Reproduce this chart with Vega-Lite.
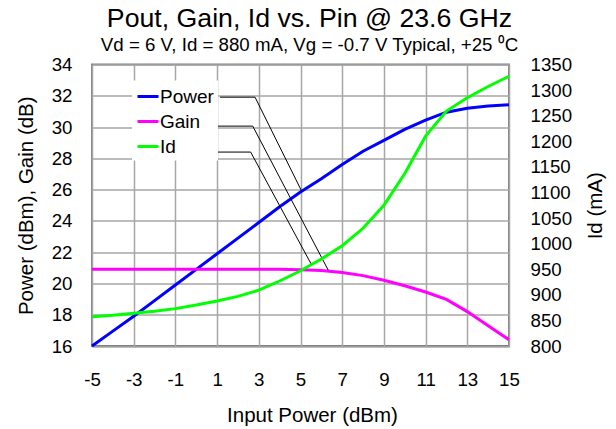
{
  "$schema": "https://vega.github.io/schema/vega-lite/v6.json",
  "width": 417,
  "height": 281.5,
  "autosize": {"type": "none"},
  "padding": {"left": 92, "top": 64.5, "right": 107, "bottom": 83},
  "title": {
    "text": "Pout, Gain, Id vs. Pin @ 23.6 GHz",
    "subtitle": "Vd = 6 V, Id = 880 mA, Vg = -0.7 V Typical, +25 ⁰C",
    "fontSize": 26.7,
    "fontWeight": "normal",
    "subtitleFontSize": 18.7,
    "font": "Liberation Sans",
    "subtitleFont": "Liberation Sans",
    "color": "black",
    "subtitleColor": "black",
    "anchor": "middle",
    "offset": 1,
    "subtitlePadding": 3,
    "dx": 9
  },
  "datasets": {
    "pg": [
      {"pin": -5, "series": "Power", "value": 16.0},
      {"pin": -4, "series": "Power", "value": 16.95},
      {"pin": -3, "series": "Power", "value": 17.9},
      {"pin": -2, "series": "Power", "value": 18.9},
      {"pin": -1, "series": "Power", "value": 19.9},
      {"pin": 0, "series": "Power", "value": 20.9},
      {"pin": 1, "series": "Power", "value": 21.9},
      {"pin": 2, "series": "Power", "value": 22.9},
      {"pin": 3, "series": "Power", "value": 23.9},
      {"pin": 4, "series": "Power", "value": 24.9},
      {"pin": 5, "series": "Power", "value": 25.85},
      {"pin": 6, "series": "Power", "value": 26.7},
      {"pin": 7, "series": "Power", "value": 27.6},
      {"pin": 8, "series": "Power", "value": 28.45},
      {"pin": 9, "series": "Power", "value": 29.15},
      {"pin": 10, "series": "Power", "value": 29.85},
      {"pin": 11, "series": "Power", "value": 30.45},
      {"pin": 12, "series": "Power", "value": 30.95},
      {"pin": 13, "series": "Power", "value": 31.2},
      {"pin": 14, "series": "Power", "value": 31.35},
      {"pin": 15, "series": "Power", "value": 31.42},
      {"pin": -5, "series": "Gain", "value": 20.9},
      {"pin": -4, "series": "Gain", "value": 20.9},
      {"pin": -3, "series": "Gain", "value": 20.9},
      {"pin": -2, "series": "Gain", "value": 20.9},
      {"pin": -1, "series": "Gain", "value": 20.9},
      {"pin": 0, "series": "Gain", "value": 20.9},
      {"pin": 1, "series": "Gain", "value": 20.9},
      {"pin": 2, "series": "Gain", "value": 20.9},
      {"pin": 3, "series": "Gain", "value": 20.9},
      {"pin": 4, "series": "Gain", "value": 20.9},
      {"pin": 5, "series": "Gain", "value": 20.88},
      {"pin": 6, "series": "Gain", "value": 20.82},
      {"pin": 7, "series": "Gain", "value": 20.7},
      {"pin": 8, "series": "Gain", "value": 20.5},
      {"pin": 9, "series": "Gain", "value": 20.2},
      {"pin": 10, "series": "Gain", "value": 19.85},
      {"pin": 11, "series": "Gain", "value": 19.45},
      {"pin": 12, "series": "Gain", "value": 18.98},
      {"pin": 13, "series": "Gain", "value": 18.2},
      {"pin": 14, "series": "Gain", "value": 17.3},
      {"pin": 15, "series": "Gain", "value": 16.4}
    ],
    "id": [
      {"pin": -5, "series": "Id", "value": 857},
      {"pin": -4, "series": "Id", "value": 860},
      {"pin": -3, "series": "Id", "value": 864},
      {"pin": -2, "series": "Id", "value": 868},
      {"pin": -1, "series": "Id", "value": 873},
      {"pin": 0, "series": "Id", "value": 880},
      {"pin": 1, "series": "Id", "value": 888},
      {"pin": 2, "series": "Id", "value": 897},
      {"pin": 3, "series": "Id", "value": 909},
      {"pin": 4, "series": "Id", "value": 927},
      {"pin": 5, "series": "Id", "value": 947},
      {"pin": 6, "series": "Id", "value": 970},
      {"pin": 7, "series": "Id", "value": 996},
      {"pin": 8, "series": "Id", "value": 1030},
      {"pin": 9, "series": "Id", "value": 1075},
      {"pin": 10, "series": "Id", "value": 1137},
      {"pin": 11, "series": "Id", "value": 1210},
      {"pin": 12, "series": "Id", "value": 1259},
      {"pin": 13, "series": "Id", "value": 1285},
      {"pin": 14, "series": "Id", "value": 1307},
      {"pin": 15, "series": "Id", "value": 1327}
    ],
    "leaders": [
      {"label": "Power", "i": 0, "pin": 1.14, "value": 31.91},
      {"label": "Power", "i": 1, "pin": 2.82, "value": 31.91},
      {"label": "Power", "i": 2, "pin": 5.06, "value": 25.89},
      {"label": "Gain", "i": 0, "pin": 0.32, "value": 30.06},
      {"label": "Gain", "i": 1, "pin": 2.71, "value": 30.06},
      {"label": "Gain", "i": 2, "pin": 6.33, "value": 20.85},
      {"label": "Id", "i": 0, "pin": -0.67, "value": 28.4},
      {"label": "Id", "i": 1, "pin": 2.61, "value": 28.4},
      {"label": "Id", "i": 2, "pin": 5.54, "value": 21.17}
    ]
  },
  "layer": [
    {
      "layer": [
        {
          "data": {"name": "pg"},
          "mark": {"type": "line", "strokeWidth": 3},
          "encoding": {
            "x": {
              "field": "pin", "type": "quantitative",
              "scale": {"domain": [-5, 15], "nice": false, "zero": false},
              "axis": {
                "title": "Input Power (dBm)",
                "values": [-5, -3, -1, 1, 3, 5, 7, 9, 11, 13, 15],
                "grid": true,
                "labelPadding": 24,
                "titlePadding": 17,
                "titleX": 220,
                "labelOverlap": false
              }
            },
            "y": {
              "field": "value", "type": "quantitative",
              "scale": {"domain": [16, 34], "nice": false, "zero": false},
              "axis": {
                "title": "Power (dBm), Gain (dB)",
                "values": [16, 18, 20, 22, 24, 26, 28, 30, 32, 34],
                "grid": true,
                "labelPadding": 20,
                "titlePadding": 15,
                "labelOverlap": false
              }
            },
            "color": {
              "field": "series", "type": "nominal",
              "scale": {"domain": ["Power", "Gain", "Id"], "range": ["#0000FF", "#FF00FF", "#00FF00"]},
              "legend": {
                "orient": "none",
                "legendX": 40,
                "legendY": 16,
                "title": null,
                "fillColor": "white",
                "padding": 4,
                "symbolType": "stroke",
                "symbolSize": 441,
                "symbolStrokeWidth": 3,
                "labelFontSize": 19,
                "labelOffset": 0,
                "rowPadding": 3,
                "labelColor": "black"
              }
            }
          }
        },
        {
          "data": {"name": "leaders"},
          "mark": {"type": "line", "color": "black", "strokeWidth": 1},
          "encoding": {
            "x": {
              "field": "pin", "type": "quantitative",
              "scale": {"domain": [-5, 15], "nice": false, "zero": false},
              "axis": {
                "title": "Input Power (dBm)",
                "values": [-5, -3, -1, 1, 3, 5, 7, 9, 11, 13, 15],
                "grid": true,
                "labelPadding": 24,
                "titlePadding": 17,
                "titleX": 220,
                "labelOverlap": false
              }
            },
            "y": {
              "field": "value", "type": "quantitative",
              "scale": {"domain": [16, 34], "nice": false, "zero": false},
              "axis": {
                "title": "Power (dBm), Gain (dB)",
                "values": [16, 18, 20, 22, 24, 26, 28, 30, 32, 34],
                "grid": true,
                "labelPadding": 20,
                "titlePadding": 15,
                "labelOverlap": false
              }
            },
            "detail": {"field": "label", "type": "nominal"},
            "order": {"field": "i", "type": "quantitative"}
          }
        }
      ]
    },
    {
      "data": {"name": "id"},
      "mark": {"type": "line", "strokeWidth": 3},
      "encoding": {
        "x": {"field": "pin", "type": "quantitative"},
        "y": {
          "field": "value", "type": "quantitative",
          "scale": {"domain": [800, 1350], "nice": false, "zero": false},
          "axis": {
            "orient": "right",
            "title": "Id (mA)",
            "values": [800, 850, 900, 950, 1000, 1050, 1100, 1150, 1200, 1250, 1300, 1350],
            "grid": false,
            "labelPadding": 21,
            "titlePadding": 14,
            "titleAngle": 270,
            "titleBaseline": "top",
            "labelOverlap": false
          }
        },
        "color": {"field": "series", "type": "nominal"}
      }
    }
  ],
  "resolve": {"scale": {"y": "independent"}},
  "config": {
    "font": "Liberation Sans",
    "view": {"stroke": "#808080", "strokeWidth": 2},
    "axis": {
      "domain": false,
      "ticks": false,
      "tickSize": 0,
      "labelOverlap": false,
      "labelFlush": false,
      "labelExpr": "'' + datum.value",
      "gridColor": "#A6A6A6",
      "gridWidth": 1.5,
      "gridOpacity": 1,
      "labelFontSize": 18.7,
      "labelColor": "black",
      "titleFontSize": 20.5,
      "titleFontWeight": "normal",
      "titleColor": "black",
      "labelFont": "Liberation Sans",
      "titleFont": "Liberation Sans"
    },
    "legend": {"labelFont": "Liberation Sans"}
  }
}
